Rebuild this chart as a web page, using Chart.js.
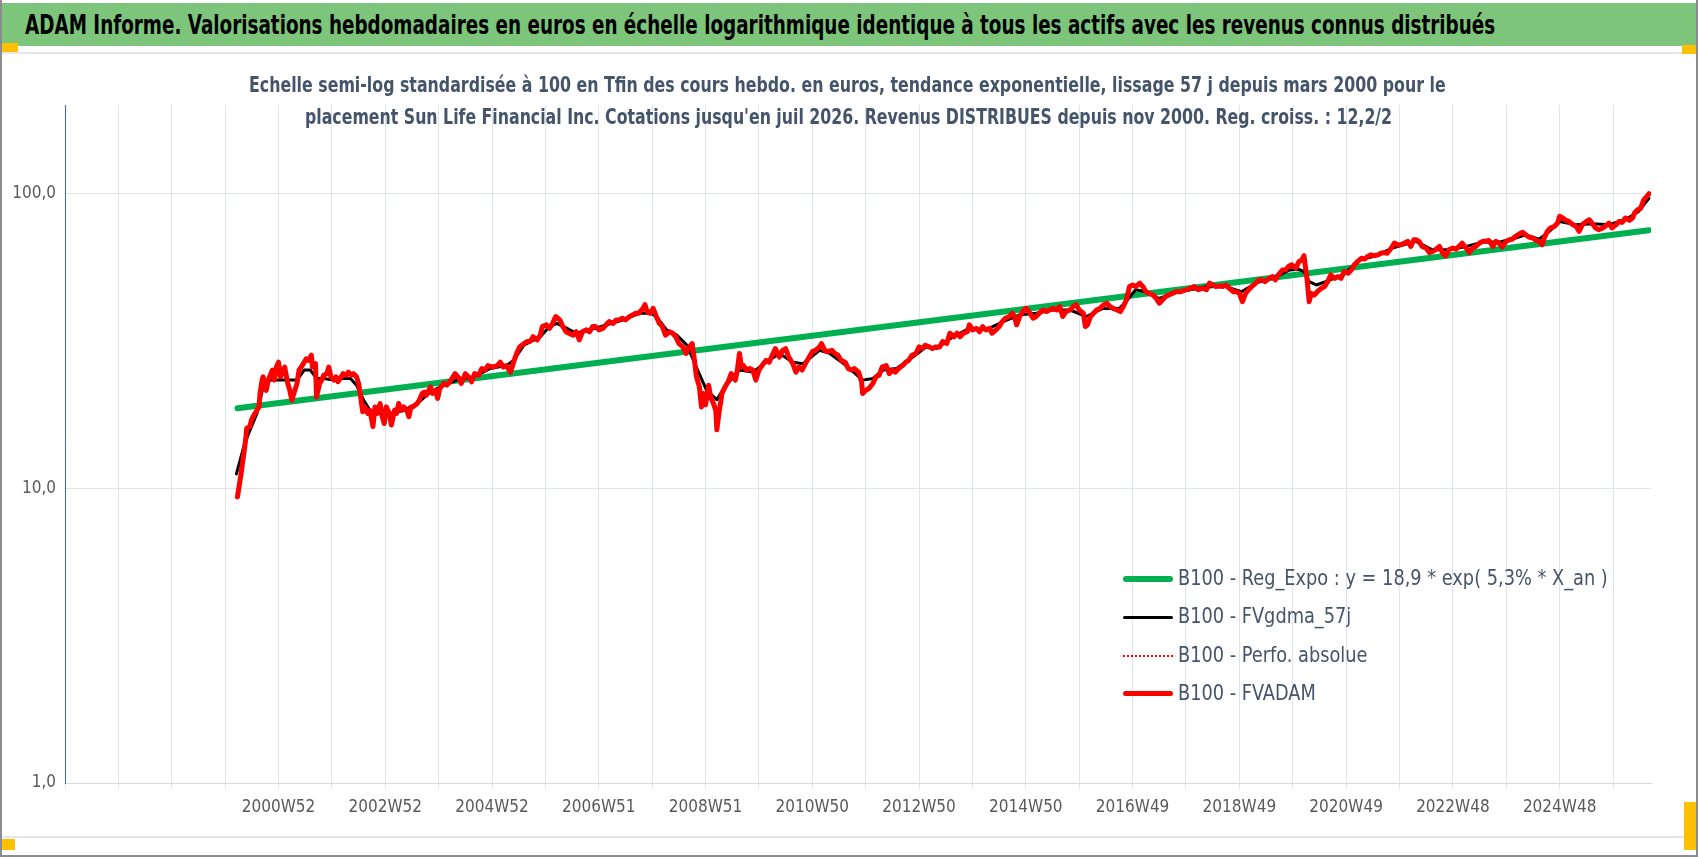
<!DOCTYPE html>
<html lang="fr">
<head>
<meta charset="utf-8">
<script src="https://cdn.jsdelivr.net/npm/chart.js@4.4.1/dist/chart.umd.min.js"></script>
<style>
  html, body { margin: 0; padding: 0; background: #fff; }
  #cadre { position: relative; width: 1698px; height: 857px; box-sizing: border-box;
           border: 2px solid #8c8c8c; border-top: 0; overflow: hidden;
           font-family: 'Liberation Sans Narrow', 'DejaVu Sans Condensed', 'Arial Narrow', sans-serif; }
  #bandeau { position: absolute; left: 0; right: 0; top: 3px; height: 43px; background: #7dc57b; }
  #bandeau span { position: absolute; left: 23px; top: 0; font-weight: bold; font-size: 27px; line-height: 43px;
                  color: #000; white-space: nowrap; transform-origin: 0 50%; }
  .filet { position: absolute; left: 0; right: 0; height: 2px; background: #e4e6ea; }
  .poignee { position: absolute; background: #ffc000; }
  .sousTitre { position: absolute; white-space: nowrap; font-weight: bold; font-size: 22px; line-height: 31px;
               color: #44546a; z-index: 3; transform-origin: 0 50%; }
  #zone { position: absolute; left: 0; top: 0; width: 1694px; height: 857px; }
  #legende { position: absolute; left: 1121px; top: 559px; z-index: 3; font-size: 21px; color: #44546a; }
  #legende div { height: 38.3px; line-height: 38px; white-space: nowrap; }
  #legende span.trait { display: inline-block; width: 50px; vertical-align: middle; margin-right: 5px; }
  #legende span.texte { display: inline-block; transform: scaleX(0.94); transform-origin: 0 50%; }
</style>
</head>
<body>
<div id="cadre">
  <div id="bandeau"><span id="titre">ADAM Informe. Valorisations hebdomadaires en euros en échelle logarithmique identique à tous les actifs avec les revenus connus distribués</span></div>
  <div class="filet" style="top:52px"></div>
  <div class="filet" style="top:836px"></div>
  <div class="poignee" style="left:0;top:43px;width:16px;height:9px"></div>
  <div class="poignee" style="right:0;top:45px;width:14px;height:9px"></div>
  <div class="poignee" style="left:0;top:839px;width:13px;height:11px"></div>
  <div class="poignee" style="right:0;top:802px;width:12px;height:48px"></div>
  <div class="sousTitre" id="st1" style="left:247px;top:69px">Echelle semi-log standardisée à 100 en Tfin des cours hebdo. en euros, tendance exponentielle, lissage 57 j depuis mars 2000 pour le</div>
  <div class="sousTitre" id="st2" style="left:303px;top:100.5px">placement Sun Life Financial Inc. Cotations jusqu'en juil 2026. Revenus DISTRIBUES depuis nov 2000. Reg. croiss. : 12,2/2</div>
  <div id="zone"><canvas id="graphe"></canvas></div>
  <div id="legende"></div>
</div>
<script>
// etiquettes de l'axe des semaines (un trait tous les 52 points)
var etiquettes = ['', '', '', '', '2000W52', '', '2002W52', '', '2004W52', '', '2006W51', '', '2008W51', '',
  '2010W50', '', '2012W50', '', '2014W50', '', '2016W49', '', '2018W49', '', '2020W49', '', '2022W48', '',
  '2024W48', ''];
var semainesParTrait = 52;
var derniereSemaine = 1545;

// B100 - FVADAM (cours hebdo)
var semainesFV = [168, 172, 176, 177, 180, 182, 185, 189, 190, 192, 193, 196, 198, 202, 204, 206, 208, 210, 212, 214,
  217, 219, 221, 223, 226, 228, 231, 233, 235, 237, 240, 241, 244, 245, 248, 250, 252, 255, 257, 259,
  262, 264, 266, 269, 271, 274, 276, 279, 281, 284, 286, 288, 290, 292, 295, 297, 300, 302, 304, 307,
  309, 311, 313, 316, 318, 321, 323, 325, 328, 330, 333, 335, 337, 339, 343, 345, 348, 350, 352, 356,
  358, 361, 363, 365, 369, 372, 375, 378, 380, 384, 386, 390, 393, 396, 399, 403, 406, 409, 412, 417,
  421, 424, 427, 430, 434, 437, 440, 443, 447, 450, 453, 456, 460, 463, 465, 469, 472, 475, 478, 482,
  485, 488, 491, 495, 498, 501, 504, 508, 511, 514, 517, 520, 524, 527, 530, 534, 537, 540, 543, 546,
  550, 553, 556, 559, 563, 565, 567, 570, 573, 576, 579, 582, 585, 589, 592, 595, 598, 602, 605, 608,
  611, 613, 615, 618, 620, 622, 624, 627, 629, 631, 634, 635, 637, 640, 643, 646, 649, 653, 655, 657,
  659, 661, 664, 667, 670, 673, 676, 679, 683, 686, 689, 692, 696, 699, 702, 705, 709, 712, 715, 718,
  722, 725, 728, 731, 735, 737, 740, 743, 747, 750, 753, 756, 760, 763, 766, 769, 773, 776, 777, 780,
  783, 787, 790, 793, 796, 800, 803, 806, 809, 812, 816, 819, 822, 825, 829, 832, 835, 838, 842, 845,
  848, 852, 855, 859, 862, 866, 869, 872, 875, 879, 881, 884, 888, 891, 894, 897, 901, 903, 907, 910,
  913, 916, 920, 923, 925, 927, 930, 933, 936, 940, 943, 946, 949, 953, 956, 959, 962, 966, 969, 972,
  975, 979, 982, 985, 988, 992, 994, 996, 999, 1002, 1005, 1008, 1012, 1015, 1018, 1021, 1025, 1028, 1031, 1034,
  1037, 1040, 1043, 1047, 1050, 1053, 1056, 1060, 1063, 1066, 1069, 1072, 1075, 1079, 1082, 1087, 1092, 1097, 1100, 1104,
  1108, 1112, 1115, 1118, 1121, 1125, 1128, 1131, 1134, 1138, 1141, 1144, 1147, 1150, 1153, 1156, 1160, 1163, 1166, 1169,
  1173, 1176, 1179, 1182, 1186, 1189, 1192, 1195, 1199, 1202, 1205, 1207, 1210, 1212, 1214, 1217, 1220, 1224, 1227, 1230,
  1233, 1237, 1240, 1243, 1246, 1250, 1253, 1256, 1259, 1263, 1266, 1269, 1272, 1275, 1279, 1282, 1285, 1288, 1292, 1295,
  1298, 1301, 1305, 1308, 1311, 1314, 1316, 1319, 1322, 1326, 1329, 1332, 1335, 1339, 1342, 1345, 1348, 1352, 1355, 1358,
  1361, 1365, 1368, 1371, 1374, 1378, 1381, 1384, 1387, 1391, 1394, 1397, 1400, 1404, 1407, 1410, 1413, 1417, 1420, 1423,
  1426, 1430, 1433, 1436, 1439, 1441, 1444, 1447, 1451, 1454, 1456, 1459, 1462, 1465, 1469, 1472, 1475, 1478, 1482, 1485,
  1488, 1491, 1494, 1498, 1501, 1504, 1507, 1511, 1514, 1517, 1520, 1524, 1527, 1529, 1532, 1535, 1538, 1541, 1543];
var fvadam = [9.35, 11.5, 14.6, 16.0, 16.2, 17.2, 17.95, 18.9, 21.0, 23.3, 23.9, 21.5, 23.3, 25.2, 23.3, 25.8, 26.8, 23.9, 24.8, 25.8,
  22.7, 21.5, 19.9, 21.0, 22.7, 25.2, 26.1, 26.8, 27.5, 27.2, 28.3, 25.8, 26.5, 20.4, 22.7, 23.3, 24.2, 24.5, 25.8, 23.9,
  23.3, 23.9, 23.0, 23.9, 24.5, 24.2, 24.8, 24.2, 24.5, 23.9, 22.7, 20.4, 18.2, 18.9, 17.95, 18.4, 16.2, 18.9, 17.95, 19.4,
  17.5, 16.6, 18.9, 17.95, 16.4, 18.4, 17.95, 19.4, 18.4, 18.9, 18.4, 17.5, 18.9, 18.9, 19.4, 19.9, 21.0, 21.2, 20.7, 22.1,
  21.0, 21.5, 20.2, 21.8, 22.7, 22.4, 23.0, 23.9, 24.5, 23.6, 22.7, 24.5, 23.9, 23.0, 24.5, 24.2, 25.5, 25.2, 26.1, 25.8,
  26.1, 26.8, 25.8, 26.1, 24.8, 26.8, 28.7, 30.2, 31.0, 31.5, 31.5, 32.7, 31.9, 33.1, 35.4, 35.9, 34.9, 36.3, 38.3, 37.3,
  35.4, 34.0, 33.6, 33.1, 34.0, 31.9, 34.0, 34.5, 34.0, 35.4, 35.4, 34.5, 34.9, 35.9, 36.8, 36.3, 37.3, 37.3, 37.8, 37.3,
  38.3, 38.8, 39.3, 39.3, 40.8, 42.0, 39.8, 39.3, 40.8, 38.3, 36.3, 35.4, 33.1, 34.0, 33.6, 32.7, 31.0, 30.2, 28.7, 30.2,
  31.0, 27.5, 24.0, 22.1, 18.9, 21.0, 19.2, 22.4, 20.4, 19.7, 18.4, 15.8, 17.95, 21.0, 22.1, 23.0, 24.5, 23.3, 25.2, 28.7,
  25.8, 26.1, 25.2, 25.5, 25.2, 23.3, 25.2, 26.1, 27.2, 26.8, 28.3, 29.8, 27.9, 29.4, 29.8, 27.9, 26.5, 24.8, 25.8, 25.2,
  26.8, 27.9, 29.1, 29.4, 30.2, 31.0, 29.4, 29.1, 29.4, 28.7, 28.3, 27.2, 26.8, 25.5, 25.2, 25.5, 24.8, 23.0, 21.0, 21.5,
  21.8, 22.7, 23.9, 24.2, 25.8, 26.1, 24.5, 25.2, 24.8, 25.5, 26.1, 26.8, 27.2, 28.3, 28.7, 30.2, 29.8, 30.6, 30.2, 29.8,
  30.2, 30.2, 31.5, 31.0, 33.6, 32.7, 33.6, 32.7, 33.6, 34.0, 35.9, 34.5, 34.9, 34.0, 35.4, 34.5, 34.9, 33.6, 34.5, 35.4,
  36.8, 37.8, 38.3, 39.3, 38.3, 35.9, 38.3, 39.8, 40.8, 39.3, 37.8, 38.3, 39.3, 40.3, 39.8, 40.3, 40.8, 40.3, 41.4, 38.3,
  39.8, 40.3, 41.4, 42.0, 40.3, 39.3, 35.4, 35.9, 38.3, 39.3, 40.3, 40.8, 42.0, 42.5, 41.4, 40.8, 40.3, 39.8, 41.4, 43.6,
  48.4, 49.0, 48.4, 49.7, 48.4, 46.5, 45.9, 45.3, 44.1, 42.5, 43.6, 44.7, 45.3, 45.9, 46.5, 46.5, 47.2, 47.8, 48.4, 47.2,
  47.8, 47.2, 49.7, 49.0, 48.4, 48.6, 48.4, 49.0, 47.8, 46.5, 46.5, 45.9, 43.0, 45.9, 47.2, 48.4, 49.7, 51.0, 51.0, 50.3,
  51.6, 52.3, 51.0, 53.0, 55.1, 55.1, 56.6, 57.4, 55.8, 58.8, 59.6, 61.6, 51.0, 43.0, 45.9, 45.3, 46.5, 47.8, 48.4, 50.3,
  53.0, 51.6, 52.3, 51.6, 54.4, 53.7, 55.1, 57.4, 58.8, 60.4, 60.0, 61.2, 62.0, 61.6, 62.0, 62.8, 63.1, 62.8, 65.4, 68.0,
  67.1, 67.1, 68.0, 68.9, 66.2, 69.8, 69.8, 68.9, 66.2, 65.4, 63.1, 63.6, 64.5, 66.2, 62.8, 61.5, 64.5, 65.4, 64.8, 66.2,
  68.0, 65.4, 63.1, 65.4, 66.2, 68.0, 68.9, 68.9, 69.4, 66.2, 68.9, 68.0, 65.9, 68.9, 69.8, 70.1, 71.6, 73.1, 74.0, 72.5,
  71.3, 70.7, 69.4, 68.9, 67.1, 70.7, 74.5, 76.5, 77.5, 79.5, 83.8, 82.7, 81.2, 80.5, 78.5, 77.5, 74.5, 78.5, 80.5, 81.6,
  79.1, 76.5, 75.5, 76.5, 77.9, 79.5, 76.5, 78.5, 80.5, 79.9, 82.7, 81.2, 82.7, 86.0, 88.2, 89.3, 95.4, 97.9, 100.0];

// B100 - FVgdma_57j (moyenne lissée)
var semainesMM = [167, 174, 179, 187, 193, 200, 213, 226, 233, 239, 245, 252, 262, 271, 278, 284, 291, 297, 304, 317,
  330, 343, 356, 369, 382, 398, 414, 430, 437, 447, 463, 472, 479, 489, 498, 511, 528, 544, 560, 570,
  576, 586, 596, 606, 615, 625, 635, 644, 657, 670, 683, 696, 709, 719, 735, 745, 761, 777, 787, 797,
  810, 826, 839, 849, 865, 881, 897, 914, 930, 946, 962, 979, 995, 1011, 1027, 1035, 1043, 1053, 1066, 1082,
  1115, 1131, 1146, 1160, 1180, 1193, 1202, 1207, 1212, 1219, 1228, 1245, 1261, 1277, 1293, 1310, 1316, 1332, 1348, 1365,
  1381, 1397, 1413, 1423, 1436, 1446, 1456, 1472, 1488, 1504, 1520, 1533, 1543];
var fvgdma = [11.2, 13.8, 15.4, 17.95, 22.1, 23.3, 23.3, 23.3, 25.2, 25.2, 23.6, 23.6, 23.3, 23.6, 23.6, 22.4, 19.9, 18.4, 17.95, 17.95,
  18.4, 19.4, 21.2, 22.4, 23.3, 23.9, 25.5, 26.1, 27.2, 30.6, 32.7, 35.4, 36.3, 34.9, 33.6, 34.5, 35.9, 37.3, 39.3, 39.3,
  38.3, 34.5, 33.1, 30.6, 25.8, 21.5, 20.0, 22.4, 25.2, 24.8, 26.8, 28.7, 26.8, 26.5, 29.4, 28.7, 26.1, 23.3, 23.6, 25.2,
  25.5, 27.9, 30.2, 29.8, 32.7, 34.9, 34.5, 36.8, 38.8, 39.3, 40.3, 40.3, 38.3, 40.8, 40.8, 43.6, 47.2, 46.5, 44.1, 46.2,
  48.6, 48.4, 46.5, 49.7, 52.3, 55.1, 55.4, 54.4, 50.3, 49.0, 50.3, 53.0, 59.6, 61.6, 65.4, 68.0, 68.9, 64.5, 64.5, 66.2,
  68.5, 68.5, 70.7, 72.5, 70.1, 74.5, 80.5, 78.5, 79.1, 78.5, 81.6, 87.1, 96.4];

// B100 - Reg_Expo (tendance exponentielle, extremites lues)
var semainesReg = [168, 1543];
var regExpo = [18.7, 75.2];

function points(xs, ys) {
  return xs.map(function (x, i) { return { x: x, y: ys[i] }; });
}

// ramene un texte a la largeur du modele
function ajuste(id, largeur) {
  var el = document.getElementById(id);
  el.style.transform = 'scaleX(' + (largeur / el.scrollWidth) + ')';
}
ajuste('titre', 1470);
ajuste('st1', 1197);
ajuste('st2', 1087);

var police = "'Liberation Sans Narrow', 'DejaVu Sans Condensed', 'Arial Narrow', sans-serif";

var ctx = document.getElementById('graphe');
var graphe = new Chart(ctx, {
  type: 'line',
  data: {
    datasets: [{
      label: 'B100 - Reg_Expo : y = 18,9 * exp( 5,3% *  X_an )',
      data: points(semainesReg, regExpo),
      borderColor: '#00b050',
      borderWidth: 6,
      order: 4
    }, {
      label: 'B100 - FVgdma_57j',
      data: points(semainesMM, fvgdma),
      borderColor: '#000000',
      borderWidth: 3,
      order: 3
    }, {
      label: 'B100 - Perfo. absolue',
      data: points(semainesFV, fvadam),
      borderColor: '#ff0000',
      borderWidth: 1.5,
      borderDash: [2, 2],
      order: 2
    }, {
      label: 'B100 - FVADAM',
      data: points(semainesFV, fvadam),
      borderColor: '#ff0000',
      borderWidth: 5,
      order: 1
    }]
  },
  options: {
    responsive: true,
    maintainAspectRatio: false,
    devicePixelRatio: 1,
    animation: false,
    elements: { point: { radius: 0 }, line: { tension: 0, borderJoinStyle: 'round', borderCapStyle: 'round' } },
    layout: { padding: { top: 105, right: 45, bottom: 20, left: 0 } },
    plugins: {
      legend: { display: false },
      title: { display: false },
      tooltip: { enabled: false }
    },
    scales: {
      x: {
        type: 'linear',
        min: 0,
        max: derniereSemaine,
        afterFit: function (s) { s.height = 54; },
        afterBuildTicks: function (s) {
          s.ticks = etiquettes.map(function (e, i) { return { value: i * semainesParTrait }; });
        },
        ticks: {
          autoSkip: false,
          maxRotation: 0,
          padding: 8,
          color: '#595959',
          font: { family: police, size: 17 },
          callback: function (v, i) { return etiquettes[i]; }
        },
        grid: { color: '#dfe3ea', lineWidth: 1, tickLength: 6 },
        border: { color: '#d9d9d9', width: 1 }
      },
      y: {
        type: 'logarithmic',
        min: 1,
        max: 200,
        afterFit: function (s) { s.width = 63; },
        afterBuildTicks: function (s) {
          s.ticks = [{ value: 1 }, { value: 10 }, { value: 100 }];
        },
        ticks: {
          padding: 9,
          color: '#595959',
          font: { family: police, size: 17 },
          callback: function (v) { return v.toFixed(1).replace('.', ','); }
        },
        grid: { color: '#dfe3ea', lineWidth: 1, drawTicks: false },
        border: { color: '#3a66b8', width: 1 }
      }
    }
  }
});

// legende HTML, dans l'ordre des series
var legende = document.getElementById('legende');
graphe.data.datasets.forEach(function (ds) {
  var ligne = document.createElement('div');
  var trait = document.createElement('span');
  trait.className = 'trait';
  var style = ds.borderDash ? 'dotted' : 'solid';
  trait.style.borderTop = Math.max(2, ds.borderWidth) + 'px ' + style + ' ' + ds.borderColor;
  if (!ds.borderDash) trait.style.borderRadius = '3px';
  var texte = document.createElement('span');
  texte.className = 'texte';
  texte.textContent = ds.label;
  ligne.appendChild(trait);
  ligne.appendChild(texte);
  legende.appendChild(ligne);
});
</script>
</body>
</html>
